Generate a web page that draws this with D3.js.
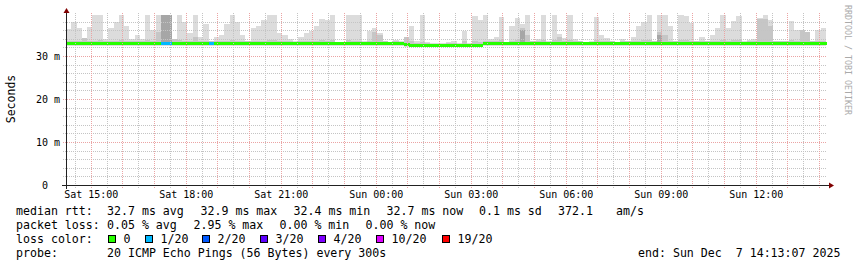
<!DOCTYPE html>
<html>
<head>
<meta charset="utf-8">
<script src="https://cdn.jsdelivr.net/npm/d3@7"></script>
<style>
  body { margin: 0; background: #fff; }
  svg text { font-family: "DejaVu Sans Mono", monospace; white-space: pre; }
</style>
</head>
<body>
<svg id="chart" width="857" height="267"></svg>
<script>
// 24h window, 10 minute bins (144)
var startTime = Date.UTC(2025, 11, 6, 14, 13, 7)
var endTime = Date.UTC(2025, 11, 7, 14, 13, 7)
var binMs = 10 * 60 * 1000

// top of the smoke (max rtt per bin, ms)
var smokeMax = [
  36.2, 38.0, 36.4, 34.2, 36.8, 39.6, 39.6, 34.0, 36.4, 38.0,
  39.6, 37.0, 34.0, 35.0, 34.0, 39.6, 36.0, 39.6, 39.6, 39.6,
  34.0, 39.6, 38.0, 35.4, 39.6, 34.4, 37.4, 33.6, 34.4, 35.0,
  37.4, 39.6, 38.0, 35.0, 33.6, 36.4, 37.0, 38.4, 39.6, 39.6,
  35.4, 35.0, 34.0, 33.6, 34.4, 35.4, 35.8, 37.0, 38.6, 38.4,
  39.6, 33.3, 33.3, 39.6, 39.6, 39.6, 33.5, 35.8, 36.4, 35.4,
  33.6, 33.3, 33.8, 33.4, 34.0, 37.0, 33.6, 39.6, 33.2, 33.0,
  33.0, 33.0, 33.2, 33.6, 33.0, 35.8, 33.0, 39.4, 38.4, 39.6,
  34.0, 34.4, 39.0, 33.3, 37.0, 38.8, 37.4, 39.6, 33.6, 34.0,
  39.6, 33.5, 39.6, 35.2, 34.2, 39.6, 34.0, 33.6, 33.3, 33.5,
  39.0, 34.8, 34.2, 33.6, 33.3, 34.0, 33.6, 34.4, 37.0, 38.0,
  39.6, 33.6, 39.6, 39.6, 37.0, 33.6, 39.6, 39.4, 37.6, 33.6,
  34.4, 33.6, 35.0, 36.4, 39.6, 36.4, 38.2, 39.2, 33.6, 33.8,
  34.0, 38.8, 39.6, 38.4, 33.6, 33.6, 33.6, 38.2, 36.0, 35.8,
  33.6, 33.6, 36.0, 36.6
]

// upper edge of the darker inner smoke band
var smokeMid = [
  33.6, 33.5, 33.6, 34.2, 33.5, 33.6, 33.8, 33.4, 33.5, 33.6,
  33.8, 33.6, 33.4, 33.5, 33.4, 33.8, 33.6, 35.5, 39.6, 39.6,
  34.0, 33.8, 33.6, 33.5, 34.5, 33.4, 33.6, 33.4, 33.4, 33.5,
  33.6, 33.8, 33.6, 33.5, 33.4, 33.5, 33.6, 33.6, 33.8, 33.8,
  33.5, 33.4, 33.4, 33.3, 33.4, 33.5, 33.5, 33.6, 33.8, 33.6,
  33.8, 33.2, 33.2, 33.8, 33.6, 33.6, 33.3, 33.5, 35.5, 35.0,
  33.4, 33.2, 33.4, 33.3, 34.5, 33.4, 33.0, 33.2, 33.0, 32.9,
  32.9, 32.9, 33.0, 33.0, 32.9, 33.4, 32.9, 33.4, 33.2, 33.6,
  33.5, 33.5, 33.8, 33.2, 33.6, 33.8, 36.5, 35.0, 33.4, 33.5,
  33.8, 33.3, 33.8, 34.5, 33.5, 33.8, 33.5, 33.4, 33.2, 33.3,
  33.8, 33.6, 33.5, 33.4, 33.2, 33.5, 33.4, 33.5, 33.6, 33.8,
  33.8, 33.4, 35.5, 35.0, 33.6, 33.4, 33.8, 33.8, 33.6, 33.4,
  33.5, 33.4, 33.5, 33.6, 33.8, 33.6, 33.8, 33.8, 33.3, 33.4,
  33.5, 38.5, 38.5, 37.0, 33.4, 33.4, 33.4, 33.8, 33.6, 36.0,
  35.5, 33.4, 33.6, 33.6
]

// darkest smoke spots [bin, top ms]
var smokeCore = [[18, 39.6], [19, 39.6], [86, 36.0], [112, 35.0]]

var medianRtt = [
  32.8, 32.8, 32.8, 32.8, 32.8, 32.8, 32.8, 32.8, 32.8, 32.8,
  32.8, 32.8, 32.8, 32.8, 32.8, 32.8, 32.8, 32.8, 32.8, 32.8,
  32.8, 32.8, 32.8, 32.8, 32.8, 32.8, 32.8, 32.8, 32.8, 32.8,
  32.8, 32.8, 32.8, 32.8, 32.8, 32.8, 32.8, 32.8, 32.8, 32.8,
  32.8, 32.8, 32.8, 32.8, 32.8, 32.8, 32.8, 32.8, 32.8, 32.8,
  32.8, 32.8, 32.8, 32.8, 32.8, 32.8, 32.8, 32.8, 32.8, 32.8,
  32.8, 32.8, 32.8, 32.8, 32.6, 32.4, 32.4, 32.4, 32.4, 32.4,
  32.4, 32.4, 32.4, 32.4, 32.4, 32.4, 32.4, 32.4, 32.4, 32.8,
  32.8, 32.8, 32.8, 32.8, 32.8, 32.8, 32.8, 32.8, 32.8, 32.8,
  32.8, 32.8, 32.8, 32.8, 32.8, 32.8, 32.8, 32.8, 32.8, 32.8,
  32.8, 32.8, 32.8, 32.8, 32.8, 32.8, 32.8, 32.8, 32.8, 32.8,
  32.8, 32.8, 32.8, 32.8, 32.8, 32.8, 32.8, 32.8, 32.8, 32.8,
  32.8, 32.8, 32.8, 32.8, 32.8, 32.8, 32.8, 32.8, 32.8, 32.8,
  32.8, 32.8, 32.8, 32.8, 32.8, 32.8, 32.8, 32.8, 32.8, 32.8,
  32.8, 32.8, 32.8, 32.8
]

// bins with lost pings [bin, lost of 20]
var lossBins = [[18, 1], [19, 1], [27, 1]]

var lossLabels = ["0", "1/20", "2/20", "3/20", "4/20", "10/20", "19/20"]
var lossSteps = [0, 1, 2, 3, 4, 10, 19]
var lossColors = ["#26ff00", "#00b8ff", "#0059ff", "#5e00ff", "#7e00ff", "#dd00ff", "#ff0000"]

var rttStats = ["32.7 ms avg", "32.9 ms max", "32.4 ms min", "32.7 ms now", "0.1 ms sd", "372.1", "am/s"]
var lossStats = ["0.05 % avg", "2.95 % max", "0.00 % min", "0.00 % now"]
var probeText = "20 ICMP Echo Pings (56 Bytes) every 300s"
var endText = "end: Sun Dec  7 14:13:07 2025"

var svg = d3.select("#chart")
var x = d3.scaleUtc().domain([startTime, endTime]).range([66, 826])
var y = d3.scaleLinear().domain([0, 40]).range([185, 13])

var bins = smokeMax.map((v, i) => ({
  i: i,
  t0: startTime + i * binMs,
  t1: startTime + (i + 1) * binMs,
  max: v,
  mid: smokeMid[i],
  med: medianRtt[i],
  loss: 0
}))
lossBins.forEach(d => { bins[d[0]].loss = d[1] })

function lossColor(n) {
  var c = lossColors[0]
  lossSteps.forEach((s, k) => { if (n >= s) c = lossColors[k] })
  return c
}

var plot = svg.append("g").attr("shape-rendering", "crispEdges")

// smoke
plot.selectAll(".smoke").data(bins).enter().append("rect")
  .attr("x", d => x(d.t0)).attr("width", d => x(d.t1) - x(d.t0))
  .attr("y", d => y(d.max)).attr("height", d => y(d.med - 0.4) - y(d.max))
  .attr("fill", "#dcdcdc")
plot.selectAll(".smokemid").data(bins).enter().append("rect")
  .attr("x", d => x(d.t0)).attr("width", d => x(d.t1) - x(d.t0))
  .attr("y", d => y(d.mid)).attr("height", d => y(d.med - 0.3) - y(d.mid))
  .attr("fill", "#c6c6c6")
plot.selectAll(".smokecore").data(smokeCore).enter().append("rect")
  .attr("x", d => x(bins[d[0]].t0)).attr("width", d => x(bins[d[0]].t1) - x(bins[d[0]].t0))
  .attr("y", d => y(d[1])).attr("height", d => y(bins[d[0]].med) - y(d[1]))
  .attr("fill", "#a6a6a6")

// grid
var grid = svg.append("g").attr("shape-rendering", "crispEdges").attr("stroke-dasharray", "1,1")
var hMinor = d3.range(2, 40, 2).filter(v => v % 10)
var hMajor = [10, 20, 30]
grid.selectAll(".hmin").data(hMinor).enter().append("line")
  .attr("x1", 63).attr("x2", 826)
  .attr("y1", d => Math.round(y(d)) + 0.5).attr("y2", d => Math.round(y(d)) + 0.5)
  .attr("stroke", "#c4c4c4")
grid.selectAll(".hmaj").data(hMajor).enter().append("line")
  .attr("x1", 63).attr("x2", 826)
  .attr("y1", d => Math.round(y(d)) + 0.5).attr("y2", d => Math.round(y(d)) + 0.5)
  .attr("stroke", "#eba4a4")
var vMinor = d3.utcMinute.every(30).range(new Date(startTime), new Date(endTime)).filter(d => d.getUTCMinutes() != 0)
var vMajor = d3.utcHour.every(1).range(new Date(startTime), new Date(endTime))
grid.selectAll(".vmin").data(vMinor).enter().append("line")
  .attr("x1", d => Math.round(x(d)) + 0.5).attr("x2", d => Math.round(x(d)) + 0.5)
  .attr("y1", 13).attr("y2", 188)
  .attr("stroke", "#c4c4c4")
grid.selectAll(".vmaj").data(vMajor).enter().append("line")
  .attr("x1", d => Math.round(x(d)) + 0.5).attr("x2", d => Math.round(x(d)) + 0.5)
  .attr("y1", 13).attr("y2", 188)
  .attr("stroke", "#eba4a4")

// median line coloured by loss
plot.selectAll(".median").data(bins).enter().append("rect")
  .attr("x", d => x(d.t0)).attr("width", d => x(d.t1) - x(d.t0) + 0.5)
  .attr("y", d => y(d.med) - 1.5).attr("height", 3)
  .attr("fill", d => lossColor(d.loss))

// axes
svg.append("line").attr("x1", 62).attr("x2", 830).attr("y1", 185.5).attr("y2", 185.5)
  .attr("stroke", "#212121")
svg.append("line").attr("x1", 66.5).attr("x2", 66.5).attr("y1", 189).attr("y2", 11)
  .attr("stroke", "#212121")
svg.append("path").attr("d", "M829,182.5L834,185.5L829,188.5Z").attr("fill", "#800000")
svg.append("path").attr("d", "M63.5,13L66.5,8L69.5,13Z").attr("fill", "#800000")

var xAxis = d3.axisBottom(x)
  .ticks(d3.utcHour.every(3))
  .tickFormat(d3.utcFormat("%a %H:%M"))
  .tickSize(0).tickPadding(6)
var gx = svg.append("g").attr("transform", "translate(0,185)").call(xAxis)
var yAxis = d3.axisLeft(y)
  .tickValues([0, 10, 20, 30])
  .tickFormat(d => d ? d + " m" : "0  ")
  .tickSize(0).tickPadding(6)
var gy = svg.append("g").attr("transform", "translate(66,0)").call(yAxis)
;[gx, gy].forEach(g => {
  g.select(".domain").remove()
  g.selectAll("text").attr("font-family", "DejaVu Sans Mono").attr("font-size", 10).attr("fill", "#000")
})

svg.append("text").attr("transform", "translate(15,99) rotate(-90)")
  .attr("text-anchor", "middle").attr("font-size", 11.5).text("Seconds")
svg.append("text").attr("transform", "translate(845,5) rotate(90)")
  .attr("font-size", 8.3).attr("fill", "#aaaaaa").text("RRDTOOL / TOBI OETIKER")

// legend
var fs = 11.6
var rttX = [107, 200.5, 293.5, 386.5, 479, 558, 616]
var lossX = [107, 193.5, 279.5, 365.5]
var leg = svg.append("g").attr("font-size", fs).attr("fill", "#000")
leg.append("text").attr("x", 16).attr("y", 215).text("median rtt:")
leg.selectAll(".rtt").data(rttStats).enter().append("text")
  .attr("x", (d, i) => rttX[i]).attr("y", 215).text(d => d)
leg.append("text").attr("x", 16).attr("y", 229).text("packet loss:")
leg.selectAll(".pl").data(lossStats).enter().append("text")
  .attr("x", (d, i) => lossX[i]).attr("y", 229).text(d => d)
leg.append("text").attr("x", 16).attr("y", 243).text("loss color:")
var boxX = [108, 145, 202, 260, 318, 376, 442]
leg.selectAll(".sw").data(lossColors).enter().append("rect")
  .attr("x", (d, i) => boxX[i] + 0.5).attr("y", 235.5).attr("width", 7).attr("height", 7)
  .attr("fill", d => d).attr("stroke", "#000").attr("shape-rendering", "crispEdges")
leg.selectAll(".swl").data(lossLabels).enter().append("text")
  .attr("x", (d, i) => boxX[i] + 15.5).attr("y", 243).text(d => d)
leg.append("text").attr("x", 16).attr("y", 257).text("probe:")
leg.append("text").attr("x", 107).attr("y", 257).text(probeText)
leg.append("text").attr("x", 638).attr("y", 257).text(endText)
</script>
</body>
</html>
